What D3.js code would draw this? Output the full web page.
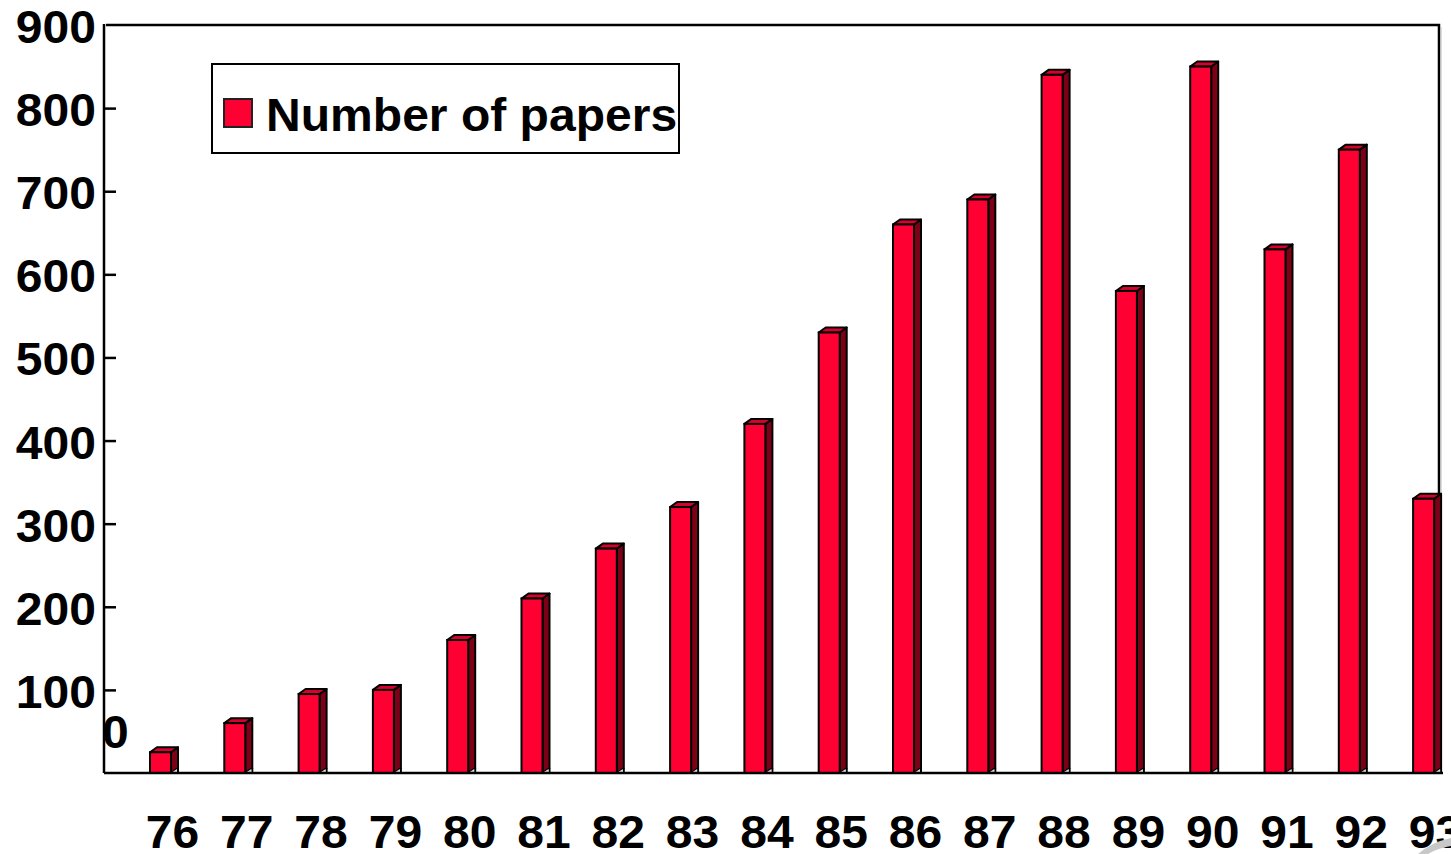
<!DOCTYPE html>
<html>
<head>
<meta charset="utf-8">
<script src="https://cdn.jsdelivr.net/npm/d3@7/dist/d3.min.js"></script>
<style>
  html, body { margin: 0; padding: 0; background: #fff; }
  svg { display: block; }
  text { font-family: "Liberation Sans", Arial, sans-serif; font-weight: bold; fill: #000; }
</style>
</head>
<body>
<svg id="chart" width="1451" height="854"></svg>
<script>
// Papers published per year
const years = ["76","77","78","79","80","81","82","83","84","85","86","87","88","89","90","91","92","93"];
const papers = [25, 60, 95, 100, 160, 210, 270, 320, 420, 530, 660, 690, 840, 580, 850, 630, 750, 330];
const yTicks = [100, 200, 300, 400, 500, 600, 700, 800, 900];
const seriesName = "Number of papers";

(function () {
const svg = d3.select("#chart");

const plotL = 104, plotR = 1439, plotT = 25, plotB = 773;
const y = d3.scaleLinear().domain([0, 900]).range([plotB, plotT]);
const x = d3.scalePoint().domain(years).range([160.5, 1423.6]);

const frontW = 21, depth = 7, rise = 5;
const cFront = "#FF0033", cTop = "#D8002C", cSide = "#7C0016";
const fontSize = 46, stretch = 1.045;

// bold label, slightly widened horizontally
function label(parent, tx, ty, str, anchor) {
  return parent.append("text")
    .attr("transform", `translate(${tx},${ty}) scale(${stretch},1)`)
    .attr("text-anchor", anchor || "start")
    .attr("font-size", fontSize)
    .text(str);
}

// frame: top and right edges
svg.append("path")
  .attr("d", `M${plotL + 2},${plotT} H${plotR} V${plotB}`)
  .attr("fill", "none").attr("stroke", "#000").attr("stroke-width", 2.5);
svg.append("path")
  .attr("d", `M${plotR + 2},${plotT + 2} V${plotB}`)
  .attr("fill", "none").attr("stroke", "#bbb").attr("stroke-width", 1);

// y axis with inward ticks
const yAxis = d3.axisRight(y).tickValues(yTicks.slice(0, -1)).tickSize(12).tickFormat("");
const gy = svg.append("g").attr("transform", `translate(${plotL},0)`).call(yAxis);
gy.select(".domain").remove();
gy.selectAll(".tick line").attr("stroke", "#000").attr("stroke-width", 2.5);

svg.append("line")
  .attr("x1", plotL).attr("x2", plotL).attr("y1", plotT - 1).attr("y2", plotB)
  .attr("stroke", "#000").attr("stroke-width", 2.5);

// y labels
const gyl = svg.append("g");
yTicks.forEach(v => label(gyl, 96, y(v) + 18, v, "end"));
label(svg, 102, y(0) - 25, "0");

// bars (3D-style: front, top, side)
const bars = svg.append("g").selectAll("g").data(years.map((yr, i) => ({ yr, v: papers[i] }))).join("g");
bars.each(function (d) {
  const g = d3.select(this);
  const x0 = x(d.yr) - frontW / 2, x1 = x0 + frontW;
  const yt = y(d.v), yb = y(0);
  // side
  g.append("path")
    .attr("d", `M${x1},${yt} L${x1 + depth},${yt - rise} L${x1 + depth},${yb - rise} L${x1},${yb} Z`)
    .attr("fill", cSide).attr("stroke", "#000").attr("stroke-width", 2).attr("stroke-linejoin", "round");
  g.append("path")
    .attr("d", `M${x1 + depth},${yb - rise} V${yb}`)
    .attr("stroke", "#000").attr("stroke-width", 2);
  g.append("path")
    .attr("d", `M${x1},${yb} L${x1 + depth - 1},${yb - rise + 1} V${yb}`)
    .attr("fill", "#ddd").attr("stroke", "none");
  // top
  g.append("path")
    .attr("d", `M${x0},${yt} L${x0 + depth},${yt - rise} L${x1 + depth},${yt - rise} L${x1},${yt} Z`)
    .attr("fill", cTop).attr("stroke", "#000").attr("stroke-width", 2).attr("stroke-linejoin", "round");
  // front
  g.append("rect")
    .attr("x", x0).attr("y", yt).attr("width", frontW).attr("height", yb - yt)
    .attr("fill", cFront).attr("stroke", "#000").attr("stroke-width", 2);
});

// x axis baseline
svg.append("line")
  .attr("x1", plotL).attr("x2", 1443).attr("y1", plotB).attr("y2", plotB)
  .attr("stroke", "#000").attr("stroke-width", 2.5);

// x labels
const gxl = svg.append("g");
years.forEach(yr => label(gxl, x(yr) + 12, 848, yr, "middle"));

// legend
svg.append("rect")
  .attr("x", 212).attr("y", 64).attr("width", 467).attr("height", 89)
  .attr("fill", "#fff").attr("stroke", "#000").attr("stroke-width", 2);
svg.append("rect")
  .attr("x", 224).attr("y", 99).attr("width", 28).attr("height", 28)
  .attr("fill", cFront).attr("stroke", "#222").attr("stroke-width", 2);
label(svg, 266, 131, seriesName);

// soft grey curl in the lower-right corner
svg.append("path")
  .attr("d", "M1418,854 Q1432,842 1451,838 L1451,846 Q1438,848 1428,854 Z")
  .attr("fill", "#c8c8c8");
})();
</script>
</body>
</html>
